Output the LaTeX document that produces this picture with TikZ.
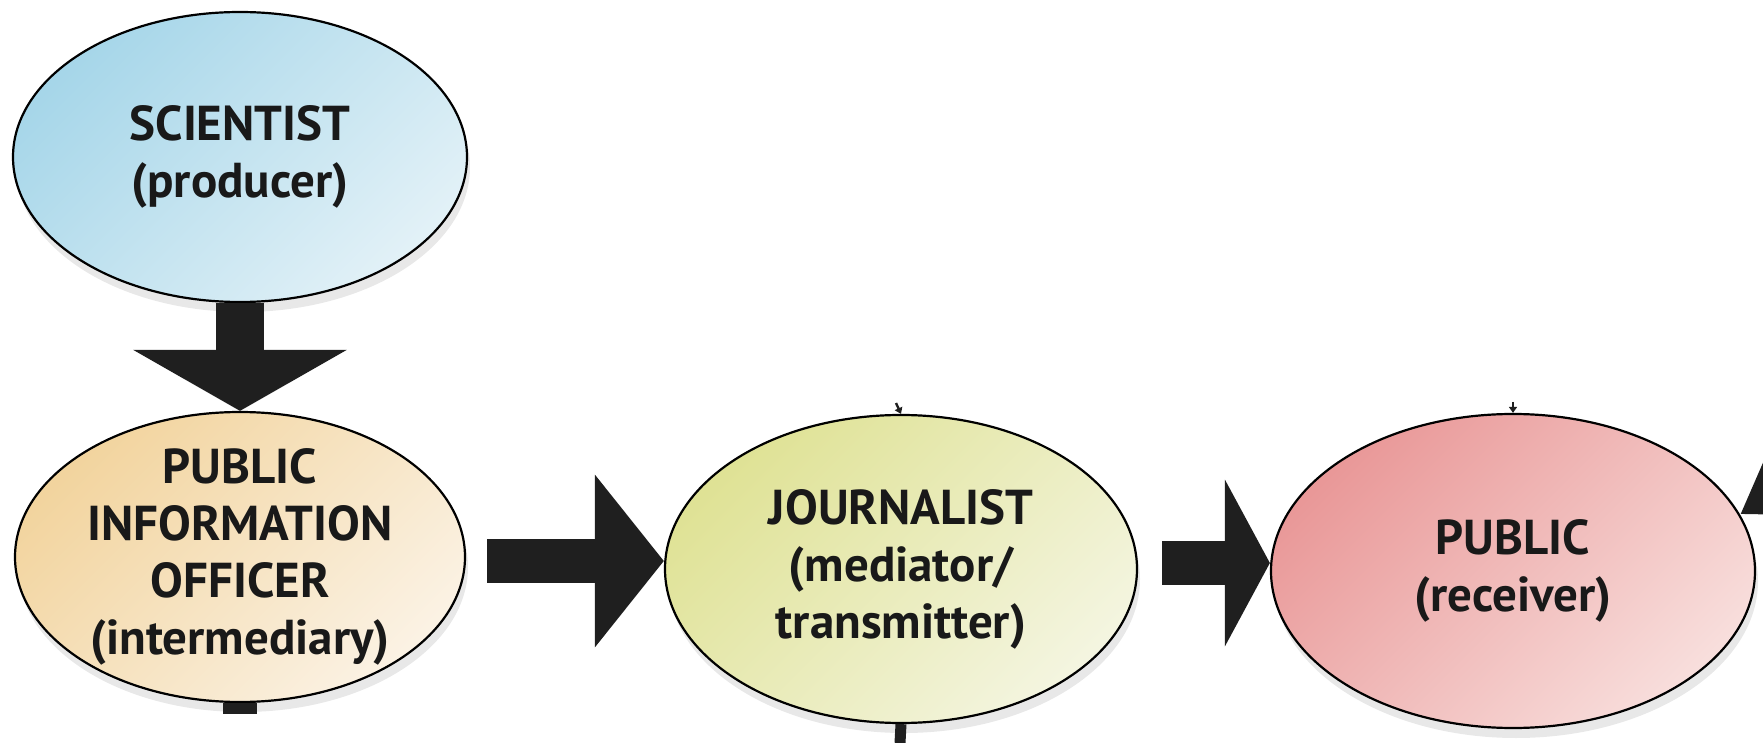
\documentclass[tikz,border=0pt]{standalone}
\usepackage{fontspec}
\setmainfont{PT Sans}
\usetikzlibrary{shapes}
\usetikzlibrary{shadows,arrows.meta}

\definecolor{sciA}{HTML}{A6D6E9}
\definecolor{sciB}{HTML}{E2F1F7}
\definecolor{pioA}{HTML}{F2D49E}
\definecolor{pioB}{HTML}{FBF2E4}
\definecolor{jourA}{HTML}{DFE295}
\definecolor{jourB}{HTML}{F4F5E0}
\definecolor{pubA}{HTML}{E99898}
\definecolor{pubB}{HTML}{F8DEDC}

\begin{document}
\begin{tikzpicture}[x=0.5pt,y=-0.5pt]
\tikzstyle{role}=[ellipse,draw=black,line width=1.1pt,inner sep=-15pt,align=center,
  font=\bfseries\fontsize{24.5}{28.5}\selectfont,text=black!90,
  drop shadow={shadow xshift=1.5pt,shadow yshift=-5pt,fill=black!18}]
\tikzstyle{flow}=[draw=black!88,line width=22pt]
\useasboundingbox (0,0) rectangle (1763,743);
\clip (0,0) rectangle (1763,743);
\node[role,minimum width=227pt,minimum height=145pt,
  top color=sciA,bottom color=sciB,shading angle=45] (sci) at (240,157)
  {SCIENTIST\\(producer)};
\node[role,minimum width=225pt,minimum height=145pt,
  top color=pioA,bottom color=pioB,shading angle=45] (pio) at (240,557)
  {PUBLIC\\INFORMATION\\OFFICER\\(intermediary)};
\node[role,minimum width=236pt,minimum height=154pt,
  top color=jourA,bottom color=jourB,shading angle=45] (jour) at (901,569)
  {JOURNALIST\\(mediator/\\transmitter)};
\node[role,minimum width=242pt,minimum height=157pt,
  top color=pubA,bottom color=pubB,shading angle=45] (pub) at (1513,571)
  {PUBLIC\\(receiver)};
% loose ends, cut off at the border
\coordinate (pioOut) at (240,714);
\coordinate (jourOut) at (900,743);
\coordinate (jourIn) at (896,403);
\coordinate (pubIn) at (1513,402);
\coordinate (ext) at ([shift={(70pt,45pt)}]pub.14);
% flow arrows
\draw[flow,line width=24pt,-{Triangle[length=30.5pt,width=105.5pt]}] (sci.south) -- (pio.north);
\draw[flow,-{Triangle[length=34.5pt,width=84.5pt]}] ([xshift=10.5pt,yshift=-2pt]pio.east) -- ([yshift=-2pt]pio.east -| jour.west);
\draw[flow,-{Triangle[length=22.5pt,width=82.5pt]}] ([xshift=12pt,yshift=3pt]jour.east) -- ([yshift=3pt]jour.east -| pub.west);
\draw[flow,-{Triangle[length=40pt,width=50pt]}] (ext) -- (pub.14);
\draw[flow,line width=17pt] (pio.south) -- (pioOut);
\draw[flow,line width=5.5pt] (jour.south) -- (jourOut);
\draw[flow,line width=1.2pt,-{Triangle[length=3pt,width=4pt]}] (jourIn) -- (jour.north);
\draw[flow,line width=1.2pt,-{Triangle[length=3pt,width=4pt]}] (pubIn) -- (pub.north);
\end{tikzpicture}
\end{document}
